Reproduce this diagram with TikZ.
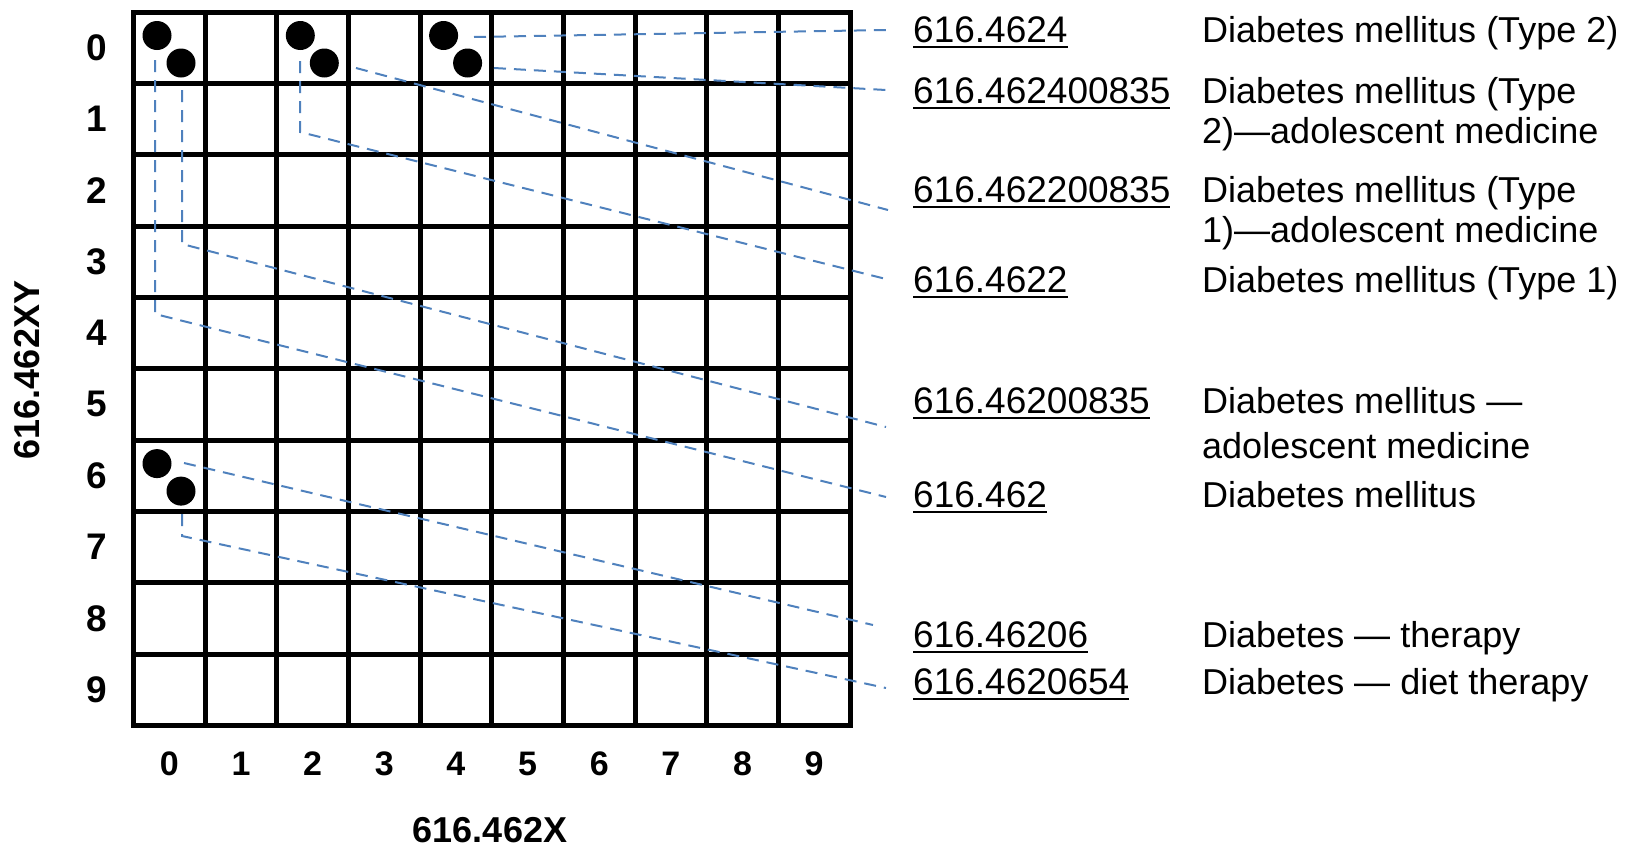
\documentclass[tikz,border=0pt]{standalone}
\usepackage{fontspec}
\setmainfont{Liberation Sans}
\usetikzlibrary{calc}
\definecolor{conn}{RGB}{79,129,189}
\newcommand\codeul[1]{\setbox0\hbox{#1}\rlap{\vrule height -3.5pt depth 6pt width \wd0}\box0}
\begin{document}
\begin{tikzpicture}[x=1pt,y=-1pt,
  gl/.style={line width=5pt,line cap=rect,black},
  dot/.style={circle,fill=black,inner sep=0pt,minimum size=29pt},
  link/.style={conn,line width=2pt,dash pattern=on 12pt off 8pt},
  code/.style={anchor=base west,inner sep=0pt,font=\fontsize{37}{40}\selectfont},
  desc/.style={anchor=base west,inner sep=0pt,font=\fontsize{36}{40}\selectfont},
  rowlab/.style={inner sep=0pt,font=\fontsize{37}{40}\selectfont\bfseries},
  collab/.style={inner sep=0pt,font=\fontsize{34}{40}\selectfont\bfseries},
  axlab/.style={inner sep=0pt,font=\fontsize{36}{40}\selectfont\bfseries}]
\useasboundingbox (0,0) rectangle (1625,849);
% grid
\foreach \i in {0,...,10} \draw[gl] ({133.5+\i*71.65},12) -- ({133.5+\i*71.65},725.5);
\foreach \j in {0,...,10} \draw[gl] (133.5,{12+\j*71.35}) -- (850,{12+\j*71.35});
% dots
\node[dot] (a1) at (157,35.5) {};
\node[dot] (a2) at (181,63) {};
\node[dot] (b1) at (300.3,35.5) {};
\node[dot] (b2) at (324.3,63) {};
\node[dot] (c1) at (443.6,35.5) {};
\node[dot] (c2) at (467.6,63) {};
\node[dot] (e1) at (157,463.6) {};
\node[dot] (e2) at (181,491.1) {};
% row and column labels
\foreach \j in {0,...,9} \node[rowlab] (r\j) at (97,{12+(\j+0.5)*71.35}) {\j};
\foreach \i in {0,...,9} \node[collab] (x\i) at ({133.5+(\i+0.5)*71.65},764) {\i};
\node[axlab] (xtitle) at (490,830.5) {616.462X};
\node[axlab,rotate=90] (ytitle) at (27.5,370) {616.462XY};
% codes
\node[code] (k1) at (913,42) {\codeul{616.4624}};
\node[code] (k2) at (913,103) {\codeul{616.462400835}};
\node[code] (k3) at (913,202) {\codeul{616.462200835}};
\node[code] (k4) at (913,292) {\codeul{616.4622}};
\node[code] (k5) at (913,413) {\codeul{616.46200835}};
\node[code] (k6) at (913,507) {\codeul{616.462}};
\node[code] (k7) at (913,647) {\codeul{616.46206}};
\node[code] (k8) at (913,694) {\codeul{616.4620654}};
% descriptions
\node[desc] (n1) at (1202,42) {Diabetes mellitus (Type 2)};
\node[desc] (n2) at (1202,103) {\begin{tabular}[t]{@{}l@{}}Diabetes mellitus (Type\\2)---adolescent medicine\end{tabular}};
\node[desc] (n3) at (1202,202) {\begin{tabular}[t]{@{}l@{}}Diabetes mellitus (Type\\1)---adolescent medicine\end{tabular}};
\node[desc] (n4) at (1202,292) {Diabetes mellitus (Type 1)};
\node[desc] (n5) at (1202,413) {\begin{tabular}[t]{@{}l@{}}Diabetes mellitus ---\\[5pt]adolescent medicine\end{tabular}};
\node[desc] (n6) at (1202,507) {Diabetes mellitus};
\node[desc] (n7) at (1202,647) {Diabetes --- therapy};
\node[desc] (n8) at (1202,694) {Diabetes --- diet therapy};
% connector ends
\coordinate (s1) at (474,37);   \coordinate (t1) at (886,30);
\coordinate (s2) at (494,68);   \coordinate (t2) at (886,90);
\coordinate (s3) at (356,68);   \coordinate (t3) at (888,210);
\coordinate (s4) at (300,61);   \coordinate (m4) at (300,132); \coordinate (t4) at (886,279);
\coordinate (s5) at (182,90);   \coordinate (m5) at (182,244); \coordinate (t5) at (886,427);
\coordinate (s6) at (155,60);   \coordinate (m6) at (155,314); \coordinate (t6) at (886,497);
\coordinate (s7) at (184,463);  \coordinate (t7) at (873,625);
\coordinate (s8) at (182,514);  \coordinate (m8) at (182,536); \coordinate (t8) at (886,688);
% connectors
\draw[link] (s1) -- (t1);
\draw[link] (s2) -- (t2);
\draw[link] (s3) -- (t3);
\draw[link] (s4) -- (m4) -- (t4);
\draw[link] (s5) -- (m5) -- (t5);
\draw[link] (s6) -- (m6) -- (t6);
\draw[link] (s7) -- (t7);
\draw[link] (s8) -- (m8) -- (t8);
\end{tikzpicture}
\end{document}
